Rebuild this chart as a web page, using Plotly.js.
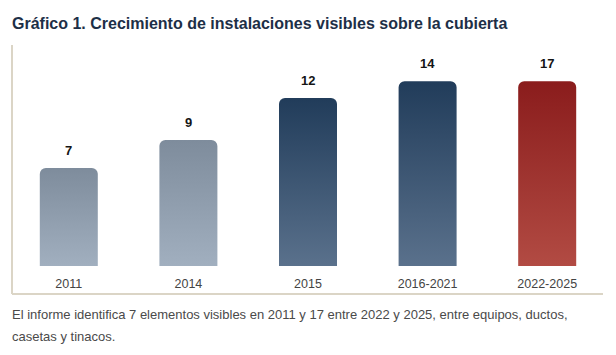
<!DOCTYPE html>
<html>
<head>
<meta charset="utf-8">
<script src="https://cdn.plot.ly/plotly-3.0.1.min.js"></script>
<style>
  html, body { margin: 0; padding: 0; background: #ffffff; }
  #chart { width: 616px; height: 355px; }
</style>
</head>
<body>
<div id="chart"></div>
<script>
// ---- data ----
const categories = ["2011", "2014", "2015", "2016-2021", "2022-2025"];
const values = [7, 9, 12, 14, 17];
// bars are drawn up to a visual maximum, as in the source graphic
const VISUAL_MAX = 13.2;
const topColors = ["#7e8c9c", "#7e8c9c", "#213c5a", "#213c5a", "#8a1c1c"];
const bottomColors = ["#a1afbf", "#a1afbf", "#5a718c", "#5a718c", "#b24b43"];
const midColors = ["#909eae", "#909eae", "#3d5673", "#3d5673", "#9e332f"];

const titleText = "Gráfico 1. Crecimiento de instalaciones visibles sobre la cubierta";
const noteLines = [
  "El informe identifica 7 elementos visibles en 2011 y 17 entre 2022 y 2025, entre equipos, ductos,",
  "casetas y tinacos."
];

const FONT = "'Liberation Sans', Arial, sans-serif";

const barHeights = values.map(v => Math.min(v, VISUAL_MAX));

const trace = {
  type: "bar",
  x: categories,
  y: barHeights,
  marker: { color: midColors, cornerradius: 6, line: { width: 0 } },
  hoverinfo: "skip"
};

const valueAnnotations = categories.map((c, i) => ({
  x: i, y: barHeights[i], xref: "x", yref: "y",
  text: "<b>" + values[i] + "</b>", showarrow: false,
  yanchor: "middle", yshift: 17.5,
  font: { family: FONT, size: 13, color: "#151515" }
}));

const noteAnnotations = noteLines.map((t, i) => ({
  text: t, showarrow: false,
  xref: "paper", yref: "paper",
  x: (10 - 9) / 598, xanchor: "left",
  y: (266 - (314 + i * 22)) / 221, yanchor: "middle",
  font: { family: FONT, size: 13, color: "#4a4a4a" }
}));

const layout = {
  width: 616, height: 355,
  margin: { l: 9, r: 9, t: 45, b: 89, pad: 0 },
  paper_bgcolor: "#ffffff",
  plot_bgcolor: "#ffffff",
  showlegend: false,
  bargap: 0.515,
  title: {
    text: "<b>" + titleText + "</b>",
    xref: "container", yref: "container",
    x: 12 / 616, xanchor: "left",
    y: 1 - 23 / 355, yanchor: "middle",
    font: { family: FONT, size: 16, color: "#1d2f47" }
  },
  xaxis: {
    type: "category",
    range: [-0.5, categories.length - 0.5],
    autorange: false,
    showgrid: false, zeroline: false, showline: false,
    ticks: "outside", ticklen: 6, tickcolor: "rgba(0,0,0,0)",
    tickfont: { family: FONT, size: 12.5, color: "#444444" },
    fixedrange: true
  },
  yaxis: {
    range: [0, 221 / 14],
    autorange: false,
    visible: false,
    showgrid: false, zeroline: false,
    fixedrange: true
  },
  shapes: [
    { type: "line", xref: "paper", yref: "paper",
      x0: (12 - 9) / 598, x1: (12 - 9) / 598, y0: 1, y1: (266 - 294) / 221,
      line: { color: "#dbd5c6", width: 2 } },
    { type: "line", xref: "paper", yref: "paper",
      x0: (12 - 9) / 598, x1: (603 - 9) / 598, y0: (266 - 294) / 221, y1: (266 - 294) / 221,
      line: { color: "#dbd5c6", width: 2 } }
  ],
  annotations: valueAnnotations.concat(noteAnnotations)
};

const gd = document.getElementById("chart");
Plotly.newPlot(gd, [trace], layout, { staticPlot: true, displayModeBar: false }).then(() => {
  const svg = gd.querySelector("svg.main-svg");
  const NS = "http://www.w3.org/2000/svg";
  let defs = svg.querySelector("defs");
  if (!defs) { defs = document.createElementNS(NS, "defs"); svg.insertBefore(defs, svg.firstChild); }
  categories.forEach((c, i) => {
    const g = document.createElementNS(NS, "linearGradient");
    g.setAttribute("id", "barGrad" + i);
    g.setAttribute("x1", "0"); g.setAttribute("y1", "0");
    g.setAttribute("x2", "0"); g.setAttribute("y2", "1");
    const s1 = document.createElementNS(NS, "stop");
    s1.setAttribute("offset", "0"); s1.setAttribute("stop-color", topColors[i]);
    const s2 = document.createElementNS(NS, "stop");
    s2.setAttribute("offset", "1"); s2.setAttribute("stop-color", bottomColors[i]);
    g.appendChild(s1); g.appendChild(s2);
    defs.appendChild(g);
  });
  const paths = gd.querySelectorAll(".barlayer .point path");
  paths.forEach((p, i) => { p.style.fill = "url(#barGrad" + i + ")"; });
});
</script>
</body>
</html>
